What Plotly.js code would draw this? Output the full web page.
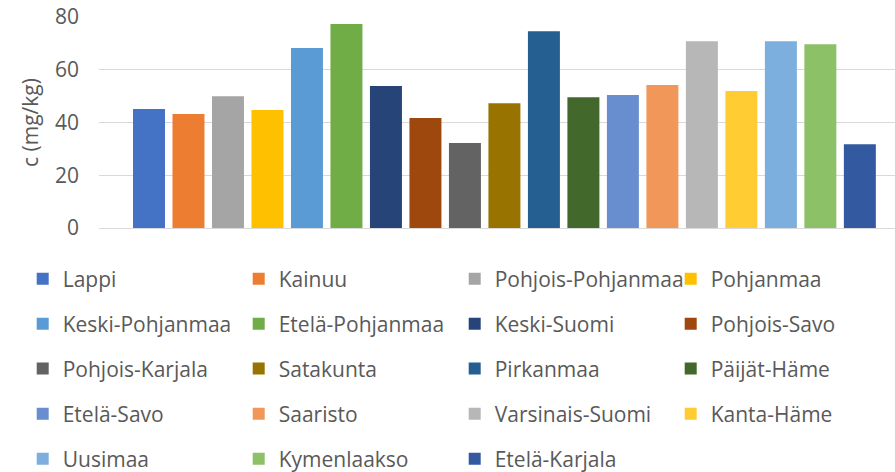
<!DOCTYPE html>
<html>
<head>
<meta charset="utf-8">
<script src="https://cdn.plot.ly/plotly-3.0.1.min.js"></script>
<style>html,body{margin:0;padding:0;background:#fff;}#chart{width:895px;height:472px;}</style>
</head>
<body>
<div id="chart"></div>
<script>
const regions = ["Lappi","Kainuu","Pohjois-Pohjanmaa","Pohjanmaa","Keski-Pohjanmaa","Etelä-Pohjanmaa","Keski-Suomi","Pohjois-Savo","Pohjois-Karjala","Satakunta","Pirkanmaa","Päijät-Häme","Etelä-Savo","Saaristo","Varsinais-Suomi","Kanta-Häme","Uusimaa","Kymenlaakso","Etelä-Karjala"];
const values = [45.1,43.2,50.0,44.7,68.2,77.3,53.8,41.7,32.2,47.3,74.6,49.6,50.4,54.2,70.8,51.9,70.8,69.7,31.8];
const colors = ["#4472C4","#ED7D31","#A5A5A5","#FFC000","#5B9BD5","#70AD47","#264478","#9E480E","#636363","#997300","#255E91","#43682B","#698ED0","#F1975A","#B7B7B7","#FFCD33","#7CAFDD","#8CC168","#335AA1"];
const yTitle = "c (mg/kg)";
const yTicks = [0,20,40,60,80];

const perRow = 4;
const traces = regions.map((r,i)=>({
  type:'bar', x:[r], y:[values[i]], name:r,
  marker:{color:colors[i]},
  legend: i < perRow ? 'legend' : 'legend' + (Math.floor(i/perRow)+1),
  hoverinfo:'skip'
}));

const font = {family:'"Open Sans", sans-serif', size:21, color:'#595959'};
const rowY = [-0.2417,-0.455,-0.668,-0.8815,-1.0948];
const layout = {
  width:895, height:472,
  margin:{l:99, r:0, t:17, b:244, autoexpand:false},
  paper_bgcolor:'#fff', plot_bgcolor:'#fff',
  barmode:'overlay', bargap:0.19,
  font:font,
  showlegend:true,
  xaxis:{type:'category', categoryorder:'array', categoryarray:regions, range:[-1.266,18.89], showticklabels:false, showgrid:false, zeroline:false, showline:false, fixedrange:true},
  yaxis:{range:[0,80], tickvals:yTicks, showgrid:true, gridcolor:'#d9d9d9', gridwidth:1, zeroline:true, zerolinecolor:'#d9d9d9', zerolinewidth:1, showline:false,
         ticks:'', ticklabelstandoff:19, tickfont:font,
         title:{text:yTitle, font:font, standoff:10}}
};
rowY.forEach((y,k)=>{
  const key = k===0 ? 'legend' : 'legend'+(k+1);
  layout[key] = {orientation:'h', x:(22.7-99)/796, xanchor:'left', y:y, yanchor:'middle', font:font,
    entrywidth:171, entrywidthmode:'pixels', bgcolor:'rgba(0,0,0,0)', borderwidth:0, traceorder:'normal'};
});
Plotly.newPlot('chart', traces, layout, {staticPlot:true, displayModeBar:false});
</script>
</body>
</html>
